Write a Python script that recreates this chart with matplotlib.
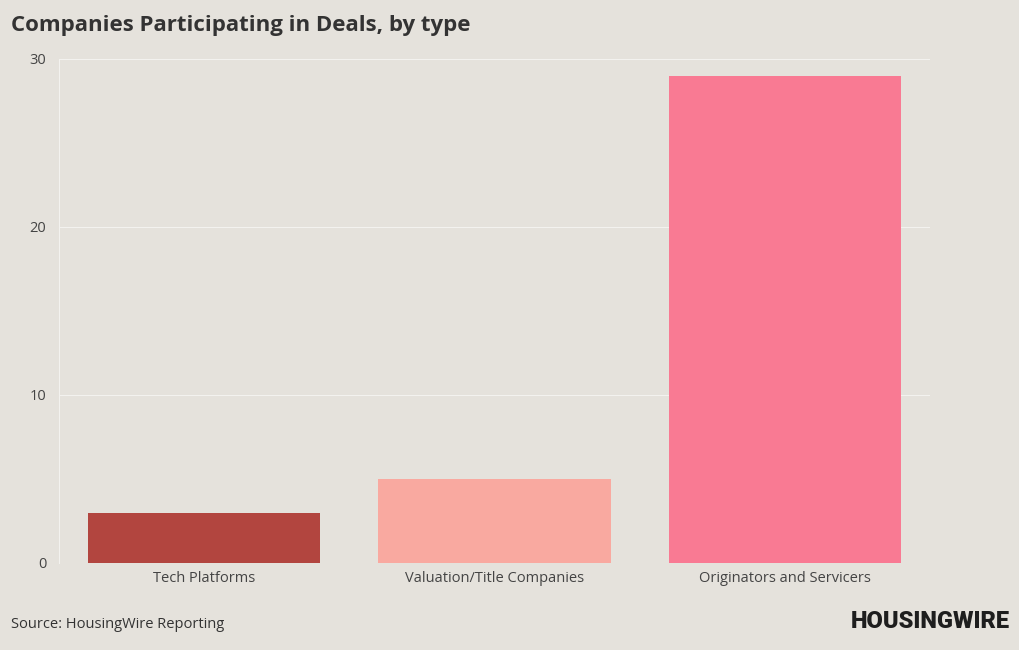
import matplotlib
matplotlib.use('Agg')
import matplotlib.pyplot as plt

# data
categories = ['Tech Platforms', 'Valuation/Title Companies', 'Originators and Servicers']
values = [3, 5, 29]
colors = ['#b2453f', '#f9a9a0', '#f97a93']
yticks = [0, 10, 20, 30]

bg = '#e5e2dc'
plt.rcParams['font.family'] = ['Open Sans', 'DejaVu Sans']

fig = plt.figure(figsize=(10.2, 6.5), dpi=100, facecolor=bg)
ax = fig.add_axes([59/1020, 1-563/650, (930-59)/1020, (563-59)/650])
ax.set_facecolor(bg)

x = range(len(categories))
ax.bar(x, values, width=0.8, color=colors, zorder=3)

ax.set_xlim(-0.5, 2.5)
ax.set_ylim(0, 30)
ax.set_yticks(yticks)
ax.set_xticks(list(x))
ax.set_xticklabels(categories)
ax.grid(axis='y', color='#f4f3f0', linewidth=0.7, zorder=0)
for s in ['top', 'right', 'bottom']:
    ax.spines[s].set_visible(False)
ax.spines['left'].set_color('#f4f3f0')
ax.spines['left'].set_linewidth(0.7)
ax.tick_params(axis='both', length=0, colors='#444444', labelsize=10.5)
ax.tick_params(axis='y', pad=9)
ax.tick_params(axis='x', pad=6)

fig.text(11/1020, 1-26/650, 'Companies Participating in Deals, by type',
         fontsize=16, fontweight='bold', color='#333333', va='center', ha='left')
fig.text(11/1020, 1-624/650, 'Source: HousingWire Reporting',
         fontsize=10.5, color='#333333', va='center', ha='left')
fig.text(1010/1020, 1-621/650, 'HOUSINGWIRE', fontsize=17, fontweight='heavy',
         family='Roboto', color='#1e1e1e', va='center', ha='right')

fig.savefig('out.png', dpi=100, facecolor=bg)
